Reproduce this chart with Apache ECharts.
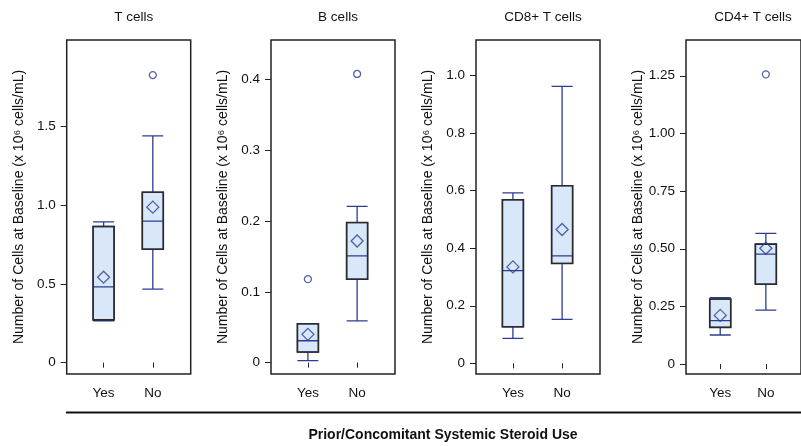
<!DOCTYPE html>
<html>
<head>
<meta charset="utf-8">
<script src="https://cdn.jsdelivr.net/npm/echarts@6/dist/echarts.min.js"></script>
<style>
  html, body { margin: 0; padding: 0; background: #fff; }
  #main { width: 801px; height: 446px; }
</style>
</head>
<body>
<div id="main"></div>
<script>
// panel titles, x categories
var panelTitles = ['T cells', 'B cells', 'CD8+ T cells', 'CD4+ T cells'];
var groups = ['Yes', 'No'];

// box stats per panel: [min, Q1, median, Q3, max] for Yes, No
var tcellBox = [[0.265, 0.272, 0.481, 0.865, 0.895], [0.467, 0.721, 0.899, 1.083, 1.441]];
var bcellBox = [[0.003, 0.015, 0.031, 0.055, 0.055], [0.059, 0.118, 0.151, 0.198, 0.221]];
var cd8Box = [[0.087, 0.127, 0.322, 0.568, 0.592], [0.153, 0.347, 0.373, 0.617, 0.962]];
var cd4Box = [[0.126, 0.159, 0.188, 0.282, 0.288], [0.234, 0.346, 0.477, 0.520, 0.567]];

// means (diamonds)
var tcellMean = [0.543, 0.988];
var bcellMean = [0.040, 0.172];
var cd8Mean = [0.335, 0.465];
var cd4Mean = [0.211, 0.502];

// outliers [group index (1=Yes, 2=No), value]
var tcellOut = [[2, 1.827]];
var bcellOut = [[1, 0.118], [2, 0.408]];
var cd8Out = [];
var cd4Out = [[2, 1.256]];

// y axis ranges and tick values
var yMin = [-0.072, -0.016, -0.037, -0.043];
var yMax = [2.05, 0.456, 1.123, 1.405];
var yTicks = [[0, 0.5, 1.0, 1.5], [0, 0.1, 0.2, 0.3, 0.4], [0, 0.2, 0.4, 0.6, 0.8, 1.0], [0, 0.25, 0.5, 0.75, 1.0, 1.25]];
var yDigits = [1, 1, 1, 2];

var boxes = [tcellBox, bcellBox, cd8Box, cd4Box];
var means = [tcellMean, bcellMean, cd8Mean, cd4Mean];
var outs = [tcellOut, bcellOut, cd8Out, cd4Out];

var gridLeft = [66.7, 271, 476, 686];
var gridW = 124;
var navy = '#2b3d94';
var fill = '#d8e8f8';
var font = 'Liberation Sans, Arial, sans-serif';
var boxW = 21;

var chart = echarts.init(document.getElementById('main'));

var grids = [], xAxes = [], yAxes = [], series = [], titles = [];

// dark outline of the Q1-Q3 box, drawn over the boxplot
function outlineItem(params, api) {
    var p1 = api.coord([api.value(0), api.value(1)]);
    var p2 = api.coord([api.value(0), api.value(2)]);
    return {
        type: 'rect',
        shape: { x: p1[0] - boxW / 2, y: p2[1], width: boxW, height: p1[1] - p2[1] },
        style: { fill: 'none', stroke: '#2a2a2a', lineWidth: 1.6 }
    };
}

for (var i = 0; i < 4; i++) {
    grids.push({ left: gridLeft[i], top: 40, width: gridW, height: 334, show: true, borderColor: '#222', borderWidth: 1.5, backgroundColor: 'transparent' });
    titles.push({ text: panelTitles[i], left: gridLeft[i] + gridW / 2, top: 5, textAlign: 'center',
        textStyle: { fontFamily: font, fontSize: 13.5, fontWeight: 'normal', color: '#111' } });
    xAxes.push({
        gridIndex: i, type: 'value', min: 0.25, max: 2.77,
        axisLine: { show: false }, splitLine: { show: false },
        axisTick: { show: true, customValues: [1, 2], length: 5, lineStyle: { color: '#222' } },
        axisLabel: { customValues: [1, 2], margin: 12, fontFamily: font, fontSize: 13.5, color: '#111',
            formatter: function (v) { return groups[Math.round(v) - 1]; } }
    });
    (function (d) {
        yAxes.push({
            gridIndex: i, type: 'value', min: yMin[i], max: yMax[i],
            name: 'Number of Cells at Baseline (x 10\u2076 cells/mL)', nameLocation: 'middle', nameGap: 41,
            nameTextStyle: { fontFamily: font, fontSize: 14, color: '#111' },
            axisLine: { show: false }, splitLine: { show: false },
            axisTick: { show: true, customValues: yTicks[i], length: 6, lineStyle: { color: '#222' } },
            axisLabel: { customValues: yTicks[i], margin: 11, fontFamily: font, fontSize: 13.5, color: '#111',
                formatter: function (v) { return v === 0 ? '0' : v.toFixed(d); } }
        });
    })(yDigits[i]);

    var data = [], frame = [];
    for (var g = 0; g < 2; g++) {
        var b = boxes[i][g];
        data.push([g + 1].concat(b));
        frame.push([g + 1, b[1], b[3]]);
    }
    series.push({
        type: 'boxplot', xAxisIndex: i, yAxisIndex: i, data: data, boxWidth: [boxW, boxW],
        itemStyle: { color: fill, borderColor: navy, borderWidth: 1.3 }, silent: true
    });
    series.push({
        type: 'custom', xAxisIndex: i, yAxisIndex: i, data: frame, renderItem: outlineItem, silent: true, z: 3
    });
    series.push({
        type: 'scatter', xAxisIndex: i, yAxisIndex: i, symbol: 'diamond', symbolSize: 12, z: 4,
        data: means[i].map(function (m, k) { return [k + 1, m]; }),
        itemStyle: { color: 'rgba(0,0,0,0)', borderColor: navy, borderWidth: 1.3 }, silent: true
    });
    series.push({
        type: 'scatter', xAxisIndex: i, yAxisIndex: i, symbol: 'circle', symbolSize: 7, z: 4,
        data: outs[i],
        itemStyle: { color: 'rgba(0,0,0,0)', borderColor: navy, borderWidth: 1.3 }, silent: true
    });
}

titles.push({ text: 'Prior/Concomitant Systemic Steroid Use', left: 438, top: 423, textAlign: 'center',
    textStyle: { fontFamily: font, fontSize: 14, fontWeight: 'bold', color: '#111' } });

chart.setOption({
    animation: false,
    title: titles,
    grid: grids,
    xAxis: xAxes,
    yAxis: yAxes,
    series: series,
    graphic: [{ type: 'line', shape: { x1: 66, y1: 412.5, x2: 801, y2: 412.5 }, style: { stroke: '#111', lineWidth: 2 } }]
});
</script>
</body>
</html>
